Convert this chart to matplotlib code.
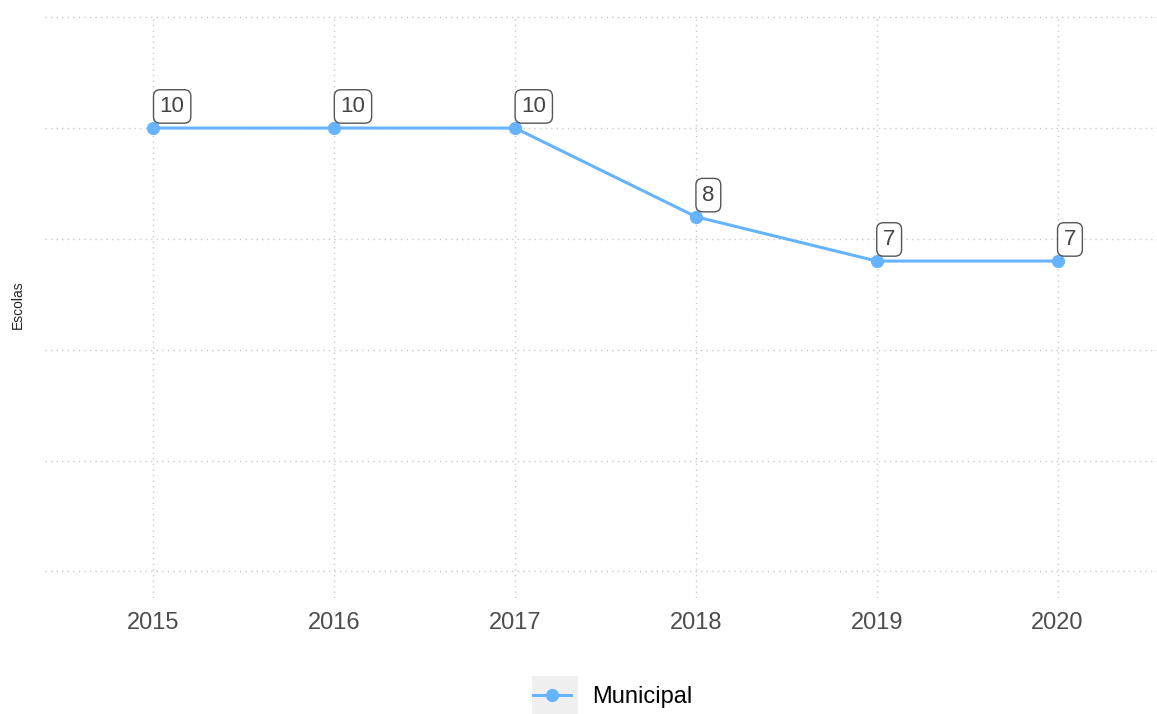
import matplotlib.pyplot as plt
from matplotlib.lines import Line2D
from matplotlib.patches import Rectangle

plt.rcParams['font.family'] = ['Liberation Sans', 'DejaVu Sans']

# escolas municipais por ano
anos = [2015, 2016, 2017, 2018, 2019, 2020]
escolas = [10, 10, 10, 8, 7, 7]
serie = 'Municipal'
cor = '#66b3ff'

W, H = 1157, 714
fig = plt.figure(figsize=(W / 100, H / 100), dpi=100)
ax = fig.add_axes([45 / W, 116 / H, 1121 / W, 583 / H])

ax.plot(anos, escolas, color=cor, lw=2.2, marker='o', ms=8.5, zorder=3)

for x, y in zip(anos, escolas):
    ax.annotate(str(y), (x, y), xytext=(4.5, 8), textcoords='offset points',
                ha='left', va='bottom', fontsize=16, color='#444444',
                bbox=dict(boxstyle='round,pad=0.28,rounding_size=0.3',
                          fc='white', ec='#555555', lw=1), zorder=4)

ax.set_xlim(2014.4, 2020.6)
ax.set_ylim(-0.6, 12.55)
ax.set_xticks(anos)
ax.set_yticks([0, 2.5, 5, 7.5, 10, 12.5])
ax.set_yticklabels([])
ax.tick_params(axis='both', length=0)
ax.tick_params(axis='x', labelsize=17, labelcolor='#4d4d4d', pad=10)
ax.grid(True, ls=(0, (1, 3)), color='#c8c8c8', lw=1)
ax.set_axisbelow(True)
for s in ax.spines.values():
    s.set_visible(False)

fig.text(18 / W, 1 - 305 / H, 'Escolas', rotation=90, fontsize=10,
         ha='center', va='center', color='#222222')

# legenda com fundo cinza na chave
fig.patches.append(Rectangle((532 / W, -4 / H), 46 / W, 42 / H,
                             transform=fig.transFigure, fc='#f0f0f0', ec='none', zorder=0))
handle = Line2D([], [], color=cor, lw=2.2, marker='o', ms=8.5)
fig.legend([handle], [serie], loc='center', bbox_to_anchor=(613 / W, 1 - 697 / H),
           frameon=False, fontsize=17, handlelength=1.6, handletextpad=0.9)

fig.savefig('out.png', dpi=100)
